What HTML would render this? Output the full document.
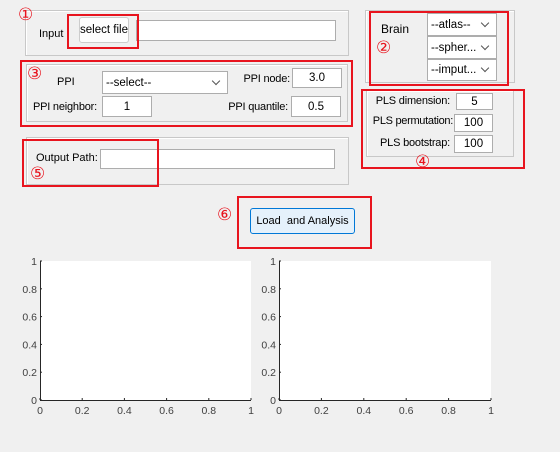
<!DOCTYPE html>
<html><head><meta charset="utf-8"><style>
body{margin:0;width:560px;height:452px;background:#f0f0f0;font-family:"Liberation Sans",sans-serif;font-size:11px;color:#000;position:relative;overflow:hidden}
.a{position:absolute;box-sizing:border-box}
.pn{border:1px solid #c8c8c8;box-shadow:inset 1px 1px 0 #fff}
.red{border:2px solid #e8141e}
.tf{background:#fff;border:1px solid #adadad;display:flex;align-items:center;justify-content:center;font-size:11.5px}
.sel{background:#fff;border:1px solid #adadad;padding-left:3px;display:flex;align-items:center;font-size:11.5px}
.sel:after{content:"";position:absolute;right:8px;top:50%;margin-top:-5px;width:5px;height:5px;border-right:1px solid #555;border-bottom:1px solid #555;transform:rotate(45deg)}
.c{color:#e8141e;font-size:17px;line-height:18px}
.t{font-size:11px;line-height:13px;white-space:nowrap}
.r{text-align:right}
</style></head><body>
<div class="a pn" style="left:25px;top:10px;width:324px;height:46px"></div>
<div class="a t" style="left:39px;top:28px">Input</div>
<div class="a" style="left:79px;top:17px;width:50px;height:26px;background:#fdfdfd;border:1px solid #ccc;border-radius:3px;display:flex;align-items:center;justify-content:center;font-size:11.5px;white-space:nowrap">select file</div>
<div class="a tf" style="left:136px;top:20px;width:200px;height:21px"></div>
<div class="a red" style="left:67px;top:14px;width:72px;height:35px"></div>
<div class="a c" style="left:18px;top:6px">①</div>

<div class="a pn" style="left:26px;top:64px;width:322px;height:58px"></div>
<div class="a t" style="left:57px;top:76px">PPI</div>
<div class="a sel" style="left:102px;top:71px;width:126px;height:23px">--select--</div>
<div class="a t r" style="left:220px;width:70px;top:73px;letter-spacing:-0.2px">PPI node:</div>
<div class="a tf" style="left:292px;top:68px;width:50px;height:20px">3.0</div>
<div class="a t r" style="left:20px;width:77px;top:101px;letter-spacing:-0.2px">PPI neighbor:</div>
<div class="a tf" style="left:102px;top:96px;width:50px;height:21px">1</div>
<div class="a t r" style="left:210px;width:78px;top:101px;letter-spacing:-0.2px">PPI quantile:</div>
<div class="a tf" style="left:291px;top:96px;width:50px;height:21px">0.5</div>
<div class="a red" style="left:20px;top:60px;width:333px;height:67px"></div>
<div class="a c" style="left:27px;top:65px">③</div>

<div class="a pn" style="left:26px;top:137px;width:323px;height:48px"></div>
<div class="a t" style="left:36px;top:152px">Output Path:</div>
<div class="a tf" style="left:100px;top:149px;width:235px;height:20px"></div>
<div class="a red" style="left:22px;top:139px;width:137px;height:48px"></div>
<div class="a c" style="left:30px;top:165px">⑤</div>

<div class="a pn" style="left:365px;top:10px;width:150px;height:73px"></div>
<div class="a t" style="left:381px;top:23px;font-size:12px">Brain</div>
<div class="a sel" style="left:427px;top:13px;width:70px;height:23px">--atlas--</div>
<div class="a sel" style="left:427px;top:36px;width:70px;height:23px">--spher...</div>
<div class="a sel" style="left:427px;top:59px;width:70px;height:22px">--imput...</div>
<div class="a red" style="left:369px;top:11px;width:140px;height:75px"></div>
<div class="a c" style="left:376px;top:39px">②</div>

<div class="a pn" style="left:366px;top:90px;width:148px;height:67px"></div>
<div class="a t r" style="left:370px;width:80px;top:95px;letter-spacing:-0.2px">PLS dimension:</div>
<div class="a tf" style="left:456px;top:93px;width:37px;height:17px">5</div>
<div class="a t r" style="left:365px;width:88px;top:115px;letter-spacing:-0.3px">PLS permutation:</div>
<div class="a tf" style="left:454px;top:114px;width:39px;height:18px">100</div>
<div class="a t r" style="left:370px;width:80px;top:137px;letter-spacing:-0.2px">PLS bootstrap:</div>
<div class="a tf" style="left:454px;top:135px;width:39px;height:18px">100</div>
<div class="a red" style="left:361px;top:89px;width:164px;height:80px"></div>
<div class="a c" style="left:415px;top:153px">④</div>

<div class="a" style="left:250px;top:208px;width:105px;height:26px;background:#e5f1fb;border:1px solid #0078d7;border-radius:3px;display:flex;align-items:center;justify-content:center;font-size:11px;white-space:nowrap">Load&nbsp; and Analysis</div>
<div class="a red" style="left:237px;top:196px;width:135px;height:53px"></div>
<div class="a c" style="left:217px;top:206px">⑥</div>

<svg class="a" style="left:0;top:0" width="560" height="452" id="ch"></svg>
<script>
const xTicks=[0,0.2,0.4,0.6,0.8,1];
const yTicks=[0,0.2,0.4,0.6,0.8,1];
const xLabels=["0","0.2","0.4","0.6","0.8","1"];
const yLabels=["0","0.2","0.4","0.6","0.8","1"];
const axesDefs=[{name:"left-axes",x0:40,x1:251},{name:"right-axes",x0:279,x1:491}];
const y0=400,y1=261,NS="http://www.w3.org/2000/svg",svg=document.getElementById('ch');
function mk(t,a){const e=document.createElementNS(NS,t);for(const k in a)e.setAttribute(k,a[k]);svg.appendChild(e);return e;}
axesDefs.forEach(ax=>{
 const sx=v=>ax.x0+v*(ax.x1-ax.x0), sy=v=>y0-v*(y0-y1);
 const r=mk('rect',{x:ax.x0,y:y1,width:ax.x1-ax.x0,height:y0-y1,fill:'#fff'});
 
 
 mk('line',{x1:ax.x0,y1:y0+0.5,x2:ax.x1,y2:y0+0.5,stroke:'#262626'});
 mk('line',{x1:ax.x0+0.5,y1:y1,x2:ax.x0+0.5,y2:y0,stroke:'#262626'});
 xTicks.forEach((v,i)=>{const x=sx(v);mk('line',{x1:x,y1:y0,x2:x,y2:y0-2,stroke:'#262626'});
  const t=mk('text',{x:x,y:y0+14,'text-anchor':'middle','font-size':'10.5','fill':'#404040','font-family':'Liberation Sans'});t.textContent=xLabels[i];
  
  });
 yTicks.forEach((v,i)=>{const y=sy(v);mk('line',{x1:ax.x0,y1:y,x2:ax.x0+2,y2:y,stroke:'#262626'});
  const t=mk('text',{x:ax.x0-3,y:y+4,'text-anchor':'end','font-size':'10.5','fill':'#404040','font-family':'Liberation Sans'});t.textContent=yLabels[i];
  
  });
});
</script>
</body></html>
